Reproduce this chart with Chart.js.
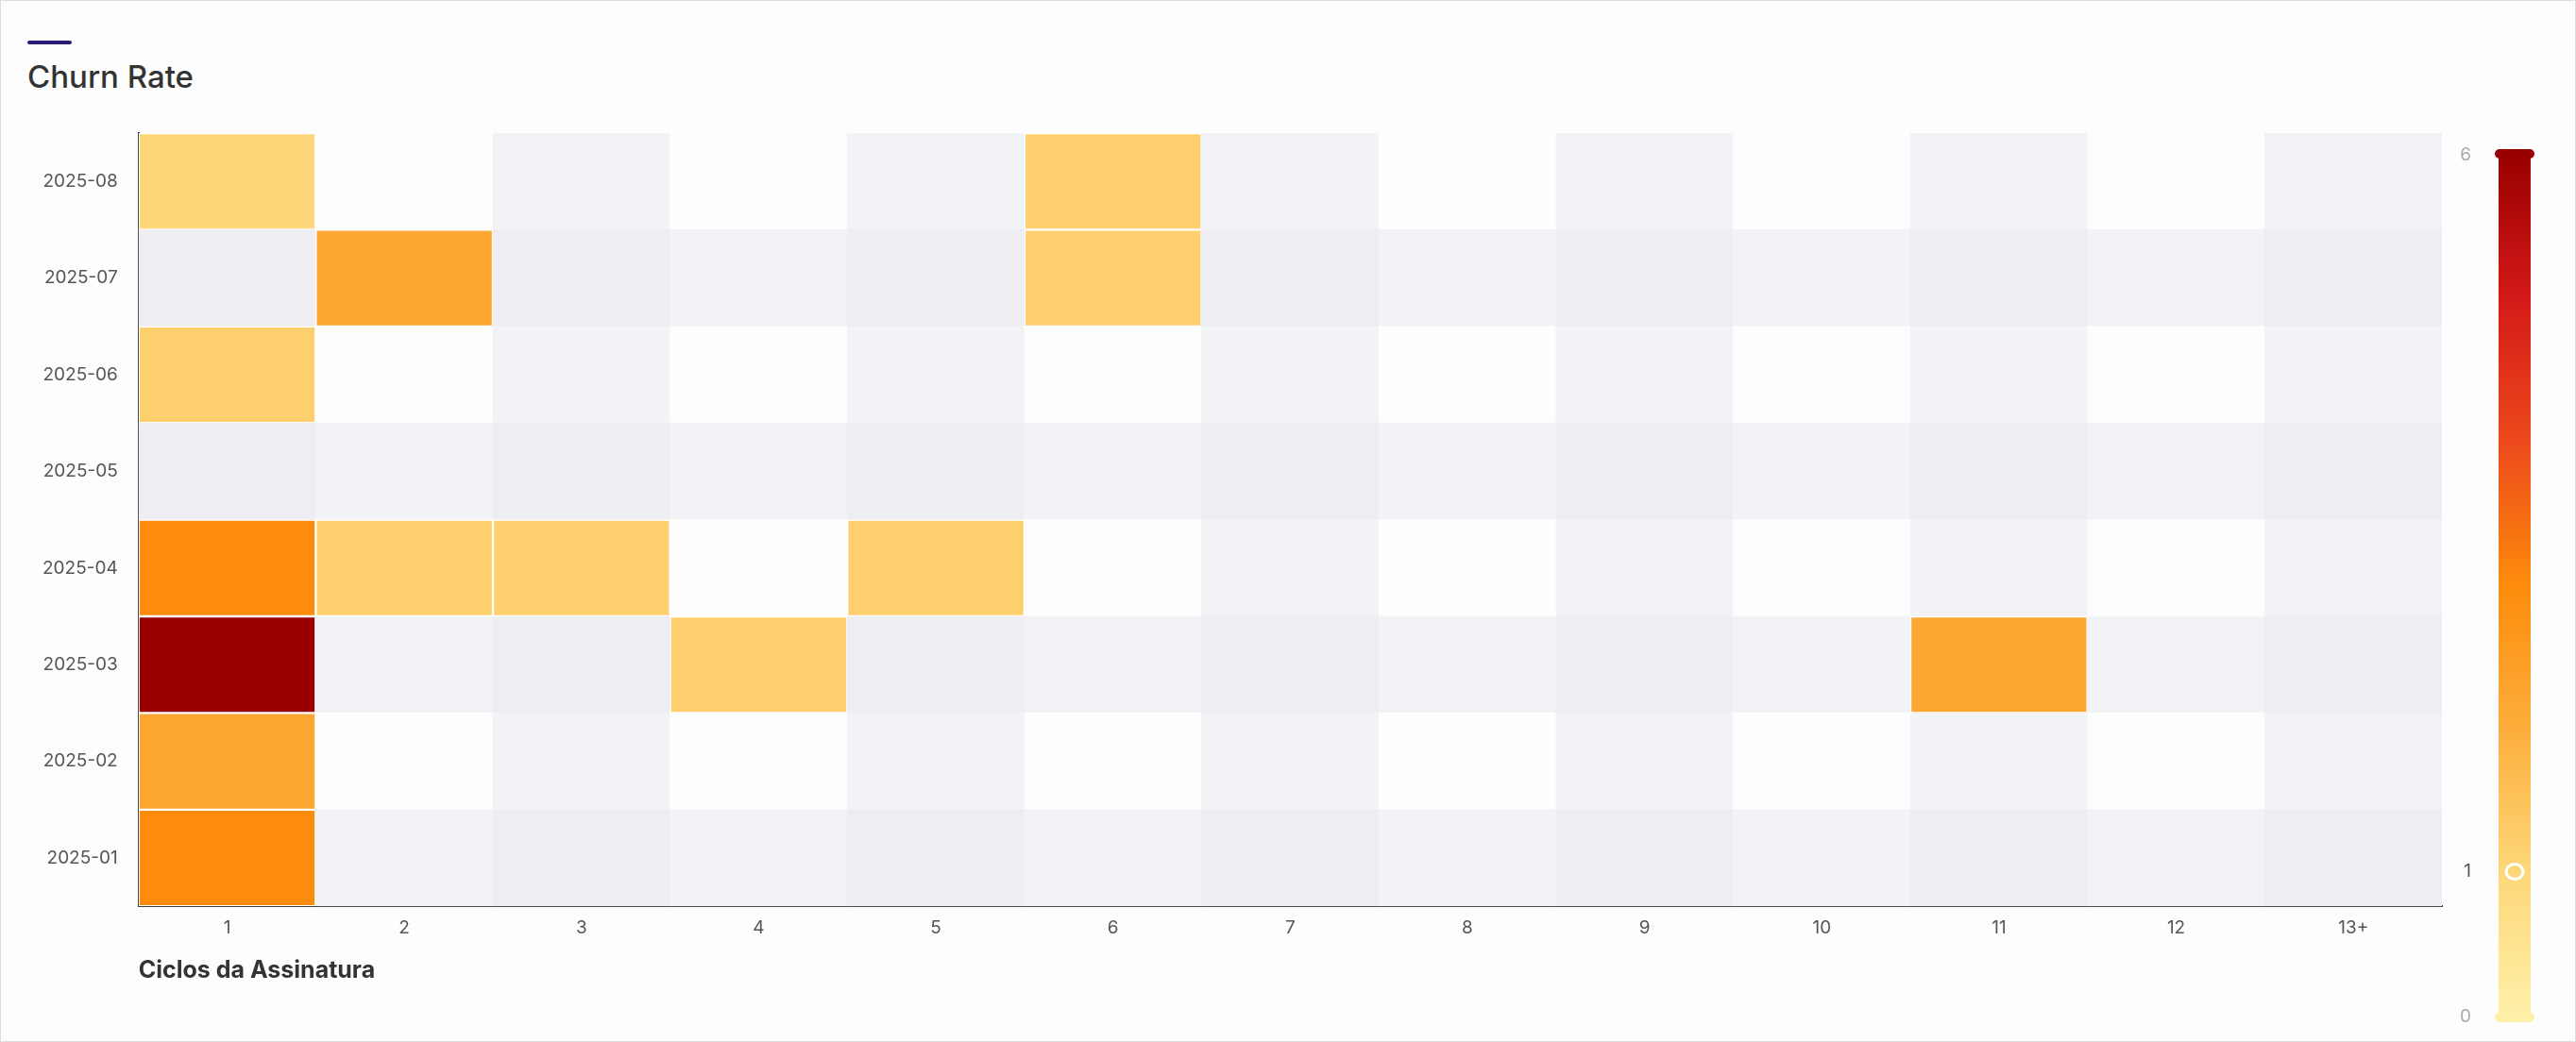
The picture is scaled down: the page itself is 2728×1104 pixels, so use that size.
<!DOCTYPE html>
<html><head><meta charset="utf-8">
<script src="https://cdn.jsdelivr.net/npm/chart.js@4"></script>
<style>
html,body{margin:0;padding:0;background:#fff;}
#wrap{position:relative;width:2726px;height:1102px;border:1px solid #ddd;background:#fdfdfd;}
#bar{position:absolute;left:28px;top:42px;width:47px;height:4px;background:#2a1a7a;border-radius:2px;}
#title{position:absolute;left:28px;top:60px;font-family:Inter,sans-serif;font-size:33px;color:#333;font-weight:500;}
canvas{position:absolute;left:0;top:0;}
</style></head><body>
<div id="wrap"><div id="bar"></div><div id="title">Churn Rate</div>
<canvas id="c" width="2726" height="1102"></canvas></div>
<script>
const cycles=['1','2','3','4','5','6','7','8','9','10','11','12','13+'];
const months=['2025-01','2025-02','2025-03','2025-04','2025-05','2025-06','2025-07','2025-08'];
// churn values per month (row) across cycles; null = no data
const v0101=[3.0,null,null,null,null,null,null,null,null,null,null,null,null];
const v0102=[2.2,null,null,null,null,null,null,null,null,null,null,null,null];
const v0103=[6.0,null,null,1.2,null,null,null,null,null,null,2.2,null,null];
const v0104=[3.0,1.2,1.2,null,1.2,null,null,null,null,null,null,null,null];
const v0105=[null,null,null,null,null,null,null,null,null,null,null,null,null];
const v0106=[1.2,null,null,null,null,null,null,null,null,null,null,null,null];
const v0107=[null,2.2,null,null,null,1.2,null,null,null,null,null,null,null];
const v0108=[1.0,null,null,null,null,1.2,null,null,null,null,null,null,null];
const rows=[v0101,v0102,v0103,v0104,v0105,v0106,v0107,v0108];
const scaleTicks=[0,1,6];
const stops=[[0,'#fff0a8'],[1,'#fdd779'],[2,'#fcae3c'],[3,'#fd8c0c'],[4,'#ec4a1c'],[5,'#d41a18'],[6,'#990000']];
function hex(h){return [1,3,5].map(i=>parseInt(h.substr(i,2),16));}
function colorFor(v){
  for(let i=0;i<stops.length-1;i++){const [a,ca]=stops[i],[b,cb]=stops[i+1];
    if(v<=b){const t=(v-a)/(b-a),A=hex(ca),B=hex(cb);return 'rgb('+A.map((x,k)=>Math.round(x+(B[k]-x)*t)).join(',')+')';}}
  return stops[stops.length-1][1];
}
function emptyColor(r,c){
  const rg=(r%2===0), cg=(c%2===0);
  if(rg&&cg) return '#ededf2';
  if(rg||cg) return '#f2f3f7';
  return '#fdfdfd';
}
const datasets=rows.map((row,r)=>({
  data:row.map(()=>[r-0.5,r+0.5]),
  backgroundColor:row.map((v,c)=>v==null?emptyColor(r,c):colorFor(v)),
  borderColor:row.map(v=>v==null?'rgba(0,0,0,0)':'#ffffff'),
  borderWidth:row.map(v=>v==null?0:1.5),
  borderSkipped:false,
  grouped:false,barPercentage:1,categoryPercentage:1
}));
const cbPlugin={id:'cb',afterDraw(ch){
  const ctx=ch.ctx,x=2643,w=38,top=165,bot=1074;
  const y=v=>bot-(v-0)/(6-0)*(bot-top);
  const g=ctx.createLinearGradient(0,bot,0,top);
  stops.forEach(([v,c])=>g.addColorStop(v/6,c));
  ctx.fillStyle=g;ctx.fillRect(x+2,top,w-4,bot-top);
  ctx.fillStyle='#990000';ctx.beginPath();ctx.roundRect(x-2,top-8,w+4,10,5);ctx.fill();
  ctx.fillStyle='#fff0a8';ctx.beginPath();ctx.roundRect(x-2,bot-2,w+4,10,5);ctx.fill();
  ctx.font='19px Inter, sans-serif';ctx.textAlign='right';ctx.textBaseline='middle';
  scaleTicks.forEach(t=>{ctx.fillStyle=t===1?'#555':'#aaa';ctx.fillText(String(t),x-27,y(t)+(t===6?-2:(t===0?2:0)));});
  ctx.strokeStyle='#fff';ctx.lineWidth=3;ctx.beginPath();ctx.ellipse(x+w/2,y(1),9,8,0,0,Math.PI*2);ctx.stroke();
}};
new Chart(document.getElementById('c'),{
  type:'bar',
  data:{labels:cycles,datasets},
  options:{responsive:false,animation:false,
    layout:{padding:{top:140,right:141,bottom:56,left:22}},
    plugins:{legend:{display:false},tooltip:{enabled:false}},
    scales:{
      x:{type:'category',grid:{display:false,drawTicks:false},border:{color:'#333',width:2},
        ticks:{color:'#555',font:{size:19,family:'Inter'},padding:12},
        title:{display:true,text:'Ciclos da Assinatura',align:'start',color:'#333',font:{size:25,weight:'bold',family:'Inter'},padding:{top:6}}},
      y:{type:'linear',min:-0.5,max:7.5,grid:{display:false,drawTicks:false},border:{color:'#333',width:2},
        afterBuildTicks(s){s.ticks=months.map((m,i)=>({value:i}));},
        ticks:{color:'#555',font:{size:19,family:'Inter'},padding:22,callback:(v)=>months[v]}}
    }},
  plugins:[cbPlugin]
});
</script></body></html>
